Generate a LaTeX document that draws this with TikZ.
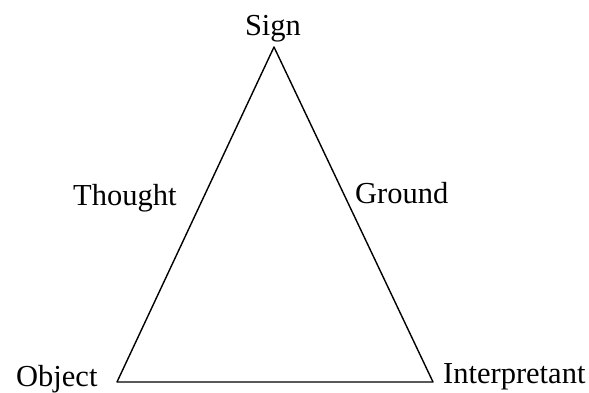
\documentclass[tikz,border=0pt]{standalone}
\usepackage{fontspec}
\setmainfont{Liberation Serif}
\begin{document}
\begin{tikzpicture}[x=1pt, y=-1pt, line cap=round, line join=round, font=\fontsize{30.5}{36}\selectfont,
	lbl/.style={inner sep=0pt, anchor=base west}]
	\useasboundingbox (0,0) rectangle (589,392);
	\path (274,47) coordinate (S)
	(117,382) coordinate (O)
	(433,382) coordinate (I);
	
	\draw[line width=1.4pt] (S) -- (O) -- (I) -- cycle;
	
	\node[lbl, anchor=base] (sign) at (273,35) {Sign};
	\node[lbl] (thought) at (73,205) {Thought};
	\node[lbl] (ground) at (355,203) {Ground};
	\node[lbl] (object) at (16,386) {Object};
	\node[lbl] (interp) at (443,383) {Interpretant};
\end{tikzpicture}
\end{document}
